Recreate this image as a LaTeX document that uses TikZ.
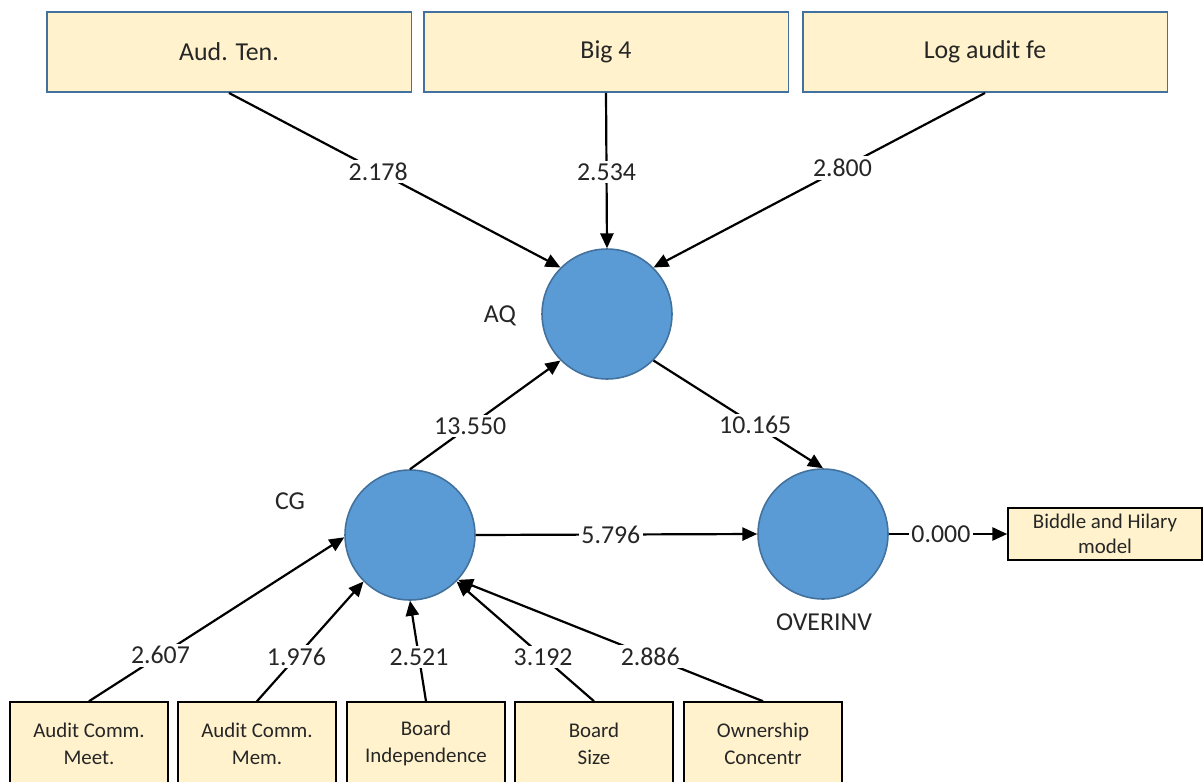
\documentclass[tikz,border=0pt]{standalone}
\usepackage{fontspec}
\setmainfont{Carlito}
\usetikzlibrary{arrows.meta}
\definecolor{boxfill}{HTML}{FFF2CC}
\definecolor{boxline}{HTML}{41719C}
\definecolor{circfill}{HTML}{5B9BD5}
\definecolor{txt}{HTML}{262626}
\begin{document}
\begin{tikzpicture}[
    x=0.02cm, y=-0.02cm,
    text=txt,
    topbox/.style={
        rectangle,
        minimum width=7.3cm,
        minimum height=1.6cm,
        draw=boxline,
        line width=1.1pt,
        fill=boxfill,
        font=\fontsize{14.7}{17}\selectfont
    },
    itembox/.style={
        rectangle,
        minimum width=3.16cm,
        minimum height=1.66cm,
        draw=black,
        line width=0.9pt,
        fill=boxfill,
        align=center,
        font=\fontsize{11.9}{15.3}\selectfont
    },
    latent/.style={
        circle,
        minimum size=2.6cm,
        draw=boxline,
        line width=0.9pt,
        fill=circfill
    },
    lbl/.style={
        font=\fontsize{14.7}{17}\selectfont
    },
    num/.style={
        fill=white,
        inner sep=1.5pt,
        font=\fontsize{14.7}{17}\selectfont
    },
    conn/.style={
        -{Triangle[length=8.5pt,width=7.5pt]},
        line width=1.25pt
    }
]
\useasboundingbox (0,0) rectangle (1203,781);
\clip (0,0) rectangle (1203,781);

% Audit quality indicators
\node[topbox] (audten) at (229,52) {Aud. Ten.};
\node[topbox] (big4) at (606,52) {Big 4};
\node[topbox] (logfee) at (985,52) {Log audit fe};

% Constructs
\node[latent] (aq) at (607,314) {};
\node[latent] (cg) at (410,535) {};
\node[latent] (overinv) at (823,534) {};
\node[lbl] (aqlab) at (500,316) {AQ};
\node[lbl] (cglab) at (290,501) {CG};
\node[lbl] (overinvlab) at (824,622) {OVERINV};

% Outcome measure
\node[itembox, minimum width=3.88cm, minimum height=1.04cm] (biddle) at (1105,534) {Biddle and Hilary\\[-1pt]model};

% Governance indicators
\node[itembox] (accmeet) at (89,743.5) {Audit Comm.\\Meet.};
\node[itembox] (accmem) at (257,743.5) {Audit Comm.\\Mem.};
\node[itembox] (boardind) at (426,743.5) {Board\\Independence};
\node[itembox] (boardsize) at (594,743.5) {Board\\Size};
\node[itembox] (owncon) at (763,743.5) {Ownership\\Concentr};

% Arrows
\draw[conn] (audten.south) -- node[num, pos=0.45] {2.178} (aq.135);
\draw[conn] (big4.south) -- node[num, pos=0.51] {2.534} (aq.north);
\draw[conn] (logfee.south) -- node[num, pos=0.43] {2.800} (aq.45);
\draw[conn] (cg.north) -- node[num, pos=0.4] {13.550} (aq.225);
\draw[conn] (aq.-45) -- node[num, pos=0.6] {10.165} (overinv.north);
\draw[conn] (cg.east) -- node[num, pos=0.48] {5.796} (overinv.west);
\draw[conn] (overinv.east) -- node[num, pos=0.44] {0.000} (biddle.west);
\draw[conn] (accmeet.north) -- node[num, pos=0.28] {2.607} (cg.182);
\draw[conn] (accmem.north) -- node[num, pos=0.37] {1.976} (cg.225);
\draw[conn] (boardind.north) -- node[num, pos=0.44] {2.521} (cg.south);
\draw[conn] (boardsize.north) -- node[num, pos=0.37] {3.192} (cg.-45);
\draw[conn] (owncon.north) -- node[num, pos=0.37] {2.886} (cg.-43);

\end{tikzpicture}
\end{document}
